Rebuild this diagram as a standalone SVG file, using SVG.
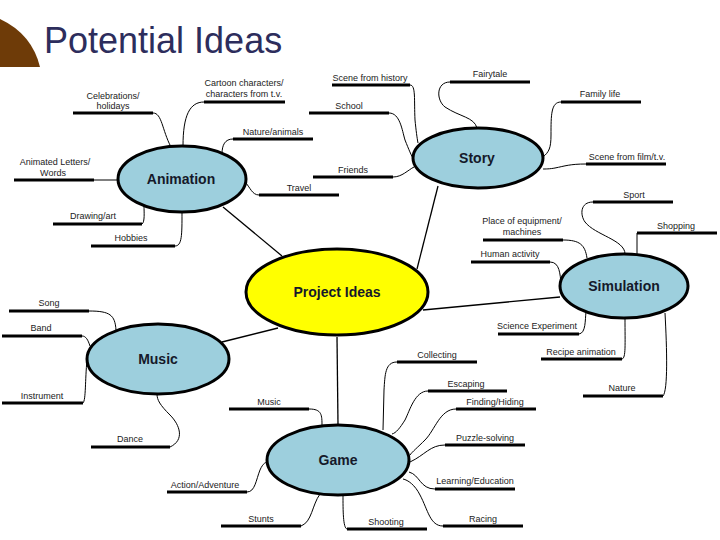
<svg xmlns="http://www.w3.org/2000/svg" width="720" height="540" viewBox="0 0 720 540">
<style>
.title{font-family:"Liberation Sans",Arial,sans-serif;font-size:36px;fill:#2d2d5c}
.hub{stroke:#000;stroke-width:3}
.blue{fill:#9dcfdd}
.yellow{fill:#ffff00}
.hl{font-family:"Liberation Sans",Arial,sans-serif;font-size:14px;font-weight:bold;fill:#15192a;text-anchor:middle}
.lt{font-family:"Liberation Sans",Arial,sans-serif;font-size:9px;fill:#222;text-anchor:middle}
.bar{stroke:#000;stroke-width:3}
.c{fill:none;stroke:#000;stroke-width:1}
.m{fill:none;stroke:#000;stroke-width:1.3}
</style>
<rect width="720" height="540" fill="#fff"/>
<path d="M0,19 Q32,34 40,67 L0,67 Z" fill="#6e3b08"/>
<text class="title" x="44" y="53">Potential Ideas</text>

<g id="connectors">
<!-- main -->
<path class="m" d="M223,207 L282,256"/>
<path class="m" d="M438,186 L417,269"/>
<path class="m" d="M423,310 L560,297"/>
<path class="m" d="M278,328 L222,342"/>
<path class="m" d="M337,337 L338,425"/>
<!-- animation -->
<path class="c" d="M153,113 C162,113 162,130 171,147"/>
<path class="c" d="M204,102 C190,102 183,115 183,146"/>
<path class="c" d="M233,139 C225,139 222,145 222,154"/>
<path class="c" d="M94,180 L118,180"/>
<path class="c" d="M259,195 C252,195 250,187 245,182"/>
<path class="c" d="M142,224 C145,222 144,212 144,206"/>
<path class="c" d="M175,246 C182,246 182,235 182,212"/>
<!-- story -->
<path class="c" d="M410,85 C416,85 414,100 415,120 C416,130 417,138 418,143"/>
<path class="c" d="M389,113 C400,113 402,130 405,140 C409,150 411,155 414,160"/>
<path class="c" d="M393,177 C402,177 408,170 414,167"/>
<path class="c" d="M450,82 C436,82 436,100 445,107 C460,117 474,117 477,128"/>
<path class="c" d="M561,102 C551,102 551,115 551,135 C551,148 549,152 543,157"/>
<path class="c" d="M586,164 C570,164 565,166 555,168 C550,169 545,169 543,169"/>
<!-- simulation -->
<path class="c" d="M593,202 C580,202 580,215 585,222 C595,235 625,240 625,254"/>
<path class="c" d="M637,233 L637,254"/>
<path class="c" d="M563,240 C580,240 585,245 587,258"/>
<path class="c" d="M550,262 C560,262 560,275 561,283"/>
<path class="c" d="M579,334 C586,333 585,320 586,312"/>
<path class="c" d="M622,359 C626,358 625,345 625,318"/>
<path class="c" d="M663,396 C668,390 667,350 665,313"/>
<!-- music -->
<path class="c" d="M89,311 C110,311 115,315 116,330"/>
<path class="c" d="M82,336 C86,336 88,340 90,346"/>
<path class="c" d="M83,403 C86,400 85,380 87,360"/>
<path class="c" d="M170,447 C185,440 180,425 170,415 C160,405 157,400 157,394"/>
<!-- game -->
<path class="c" d="M309,409 C322,409 322,415 322,426"/>
<path class="c" d="M397,362 C385,362 385,375 384,390 L383,430"/>
<path class="c" d="M428,391 C415,391 410,410 405,420 C400,428 396,433 392,434"/>
<path class="c" d="M456,409 C440,409 435,430 425,440 C418,447 412,452 410,455"/>
<path class="c" d="M445,445 C430,445 425,455 410,462"/>
<path class="c" d="M435,489 C420,489 420,475 409,472"/>
<path class="c" d="M443,526 C430,526 428,510 420,495 C415,485 408,480 403,479"/>
<path class="c" d="M347,529 C343,528 343,510 343,495"/>
<path class="c" d="M301,526 C312,522 312,505 320,494"/>
<path class="c" d="M247,492 C255,492 256,480 260,470 C263,463 266,462 268,462"/>
</g>

<g id="project-ideas"><ellipse class="hub yellow" cx="337" cy="292" rx="91" ry="43"/><text class="hl" x="337" y="297">Project Ideas</text></g>
<g id="animation"><ellipse class="hub blue" cx="182" cy="179" rx="64" ry="33"/><text class="hl" x="181" y="184">Animation</text></g>
<g id="story"><ellipse class="hub blue" cx="478" cy="158" rx="65" ry="30"/><text class="hl" x="477" y="163">Story</text></g>
<g id="simulation"><ellipse class="hub blue" cx="624" cy="286" rx="64" ry="32"/><text class="hl" x="624" y="291">Simulation</text></g>
<g id="music"><ellipse class="hub blue" cx="158" cy="359" rx="71" ry="35"/><text class="hl" x="158" y="364">Music</text></g>
<g id="game"><ellipse class="hub blue" cx="338" cy="460" rx="71" ry="35"/><text class="hl" x="338" y="465">Game</text></g>

<!-- animation leaves -->
<g id="celebrations"><text class="lt" x="113" y="99">Celebrations/</text><text class="lt" x="113" y="109">holidays</text><line class="bar" x1="73" y1="113" x2="153" y2="113"/></g>
<g id="cartoon"><text class="lt" x="244" y="86">Cartoon characters/</text><text class="lt" x="244" y="97">characters from t.v.</text><line class="bar" x1="204" y1="102" x2="285" y2="102"/></g>
<g id="nature-animals"><text class="lt" x="273" y="135">Nature/animals</text><line class="bar" x1="233" y1="139" x2="313" y2="139"/></g>
<g id="animated-letters"><text class="lt" x="55" y="165">Animated Letters/</text><text class="lt" x="53" y="176">Words</text><line class="bar" x1="14" y1="180" x2="94" y2="180"/></g>
<g id="travel"><text class="lt" x="299" y="191">Travel</text><line class="bar" x1="259" y1="195" x2="339" y2="195"/></g>
<g id="drawing"><text class="lt" x="93" y="219">Drawing/art</text><line class="bar" x1="53" y1="224" x2="142" y2="224"/></g>
<g id="hobbies"><text class="lt" x="131" y="241">Hobbies</text><line class="bar" x1="91" y1="246" x2="175" y2="246"/></g>

<!-- story leaves -->
<g id="scene-history"><text class="lt" x="370" y="81">Scene from history</text><line class="bar" x1="332" y1="85" x2="410" y2="85"/></g>
<g id="school"><text class="lt" x="349" y="109">School</text><line class="bar" x1="309" y1="113" x2="389" y2="113"/></g>
<g id="friends"><text class="lt" x="353" y="173">Friends</text><line class="bar" x1="313" y1="177" x2="393" y2="177"/></g>
<g id="fairytale"><text class="lt" x="490" y="77">Fairytale</text><line class="bar" x1="450" y1="82" x2="530" y2="82"/></g>
<g id="family-life"><text class="lt" x="600" y="97">Family life</text><line class="bar" x1="561" y1="102" x2="641" y2="102"/></g>
<g id="scene-film"><text class="lt" x="627" y="160">Scene from film/t.v.</text><line class="bar" x1="586" y1="164" x2="666" y2="164"/></g>

<!-- simulation leaves -->
<g id="sport"><text class="lt" x="634" y="198">Sport</text><line class="bar" x1="593" y1="202" x2="673" y2="202"/></g>
<g id="shopping"><text class="lt" x="676" y="229">Shopping</text><line class="bar" x1="637" y1="233" x2="717" y2="233"/></g>
<g id="place-equipment"><text class="lt" x="522" y="224">Place of equipment/</text><text class="lt" x="522" y="235">machines</text><line class="bar" x1="483" y1="240" x2="563" y2="240"/></g>
<g id="human-activity"><text class="lt" x="510" y="257">Human activity</text><line class="bar" x1="471" y1="262" x2="550" y2="262"/></g>
<g id="science"><text class="lt" x="537" y="329">Science Experiment</text><line class="bar" x1="498" y1="334" x2="579" y2="334"/></g>
<g id="recipe"><text class="lt" x="581" y="355">Recipe animation</text><line class="bar" x1="541" y1="359" x2="622" y2="359"/></g>
<g id="nature"><text class="lt" x="622" y="391">Nature</text><line class="bar" x1="583" y1="396" x2="663" y2="396"/></g>

<!-- music leaves -->
<g id="song"><text class="lt" x="49" y="306">Song</text><line class="bar" x1="9" y1="311" x2="89" y2="311"/></g>
<g id="band"><text class="lt" x="41" y="331">Band</text><line class="bar" x1="2" y1="336" x2="82" y2="336"/></g>
<g id="instrument"><text class="lt" x="42" y="399">Instrument</text><line class="bar" x1="2" y1="403" x2="83" y2="403"/></g>
<g id="dance"><text class="lt" x="130" y="442">Dance</text><line class="bar" x1="91" y1="447" x2="170" y2="447"/></g>

<!-- game leaves -->
<g id="music-game"><text class="lt" x="269" y="405">Music</text><line class="bar" x1="229" y1="409" x2="309" y2="409"/></g>
<g id="collecting"><text class="lt" x="437" y="358">Collecting</text><line class="bar" x1="397" y1="362" x2="477" y2="362"/></g>
<g id="escaping"><text class="lt" x="466" y="387">Escaping</text><line class="bar" x1="428" y1="391" x2="507" y2="391"/></g>
<g id="finding"><text class="lt" x="495" y="405">Finding/Hiding</text><line class="bar" x1="456" y1="409" x2="536" y2="409"/></g>
<g id="puzzle"><text class="lt" x="485" y="441">Puzzle-solving</text><line class="bar" x1="445" y1="445" x2="525" y2="445"/></g>
<g id="learning"><text class="lt" x="475" y="484">Learning/Education</text><line class="bar" x1="435" y1="489" x2="515" y2="489"/></g>
<g id="racing"><text class="lt" x="483" y="522">Racing</text><line class="bar" x1="443" y1="526" x2="523" y2="526"/></g>
<g id="shooting"><text class="lt" x="386" y="525">Shooting</text><line class="bar" x1="347" y1="529" x2="427" y2="529"/></g>
<g id="stunts"><text class="lt" x="261" y="522">Stunts</text><line class="bar" x1="221" y1="526" x2="301" y2="526"/></g>
<g id="action"><text class="lt" x="205" y="488">Action/Adventure</text><line class="bar" x1="167" y1="492" x2="247" y2="492"/></g>
</svg>
